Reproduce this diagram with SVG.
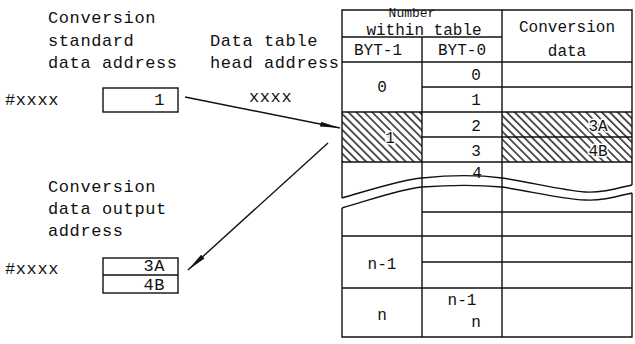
<svg xmlns="http://www.w3.org/2000/svg" width="635" height="344" viewBox="0 0 635 344">
<style>
text{font-family:"Liberation Mono","DejaVu Sans Mono",monospace;fill:#111}
.l{font-size:17px;letter-spacing:0.6px}
.t{font-size:16px}
.ln{stroke:#111;stroke-width:1.4;fill:none}
.box{stroke:#111;stroke-width:1.4;fill:#fff}
.k{paint-order:stroke;stroke:#fff;stroke-width:3px}
</style>
<defs>
<pattern id="hatch" patternUnits="userSpaceOnUse" width="5.6" height="5.6" patternTransform="rotate(45)">
<line x1="0" y1="1" x2="5.6" y2="1" stroke="#111" stroke-width="1.4"/>
</pattern>
<marker id="ah" viewBox="0 0 20 6" refX="20" refY="3" markerWidth="20" markerHeight="6" markerUnits="userSpaceOnUse" orient="auto">
<path d="M0,0.5 L20,3 L0,5.5 Z" fill="#111"/>
</marker>
</defs>

<g id="label-std">
<text class="l" x="48" y="23">Conversion</text>
<text class="l" x="48" y="46">standard</text>
<text class="l" x="48" y="68">data address</text>
</g>
<g id="label-head">
<text class="l" x="210" y="46">Data table</text>
<text class="l" x="210" y="68">head address</text>
<text class="l" x="249" y="102">xxxx</text>
</g>
<g id="node-std">
<text class="l" x="5" y="105">#xxxx</text>
<rect class="box" x="103" y="88" width="75" height="24"/>
<text class="l" x="165" y="105" text-anchor="end">1</text>
</g>
<g id="label-out">
<text class="l" x="48" y="192">Conversion</text>
<text class="l" x="48" y="214">data output</text>
<text class="l" x="48" y="236">address</text>
</g>
<g id="node-out">
<text class="l" x="5" y="274">#xxxx</text>
<rect class="box" x="103" y="258" width="75" height="35"/>
<line class="ln" x1="103" y1="275" x2="178" y2="275"/>
<text class="l" x="165" y="271" text-anchor="end">3A</text>
<text class="l" x="165" y="290" text-anchor="end">4B</text>
</g>

<g id="table">
<rect x="342" y="112" width="80" height="50" fill="url(#hatch)"/>
<rect x="502" y="112" width="130" height="50" fill="url(#hatch)"/>
<path class="ln" d="M342,198 V10 H632 V185"/>
<path class="ln" d="M342,198 C370,190 400,180 422,178 C450,175 480,175 502,178 C530,182 560,190 585,192 C600,193 615,189 632,185"/>
<path class="ln" d="M342,208 C370,200 400,189 422,187 C450,185 480,185 502,187 C530,191 560,199 585,200 C600,201 615,197 632,193"/>
<path class="ln" d="M342,208 V337 H632 V193"/>
<line class="ln" x1="422" y1="37" x2="422" y2="337"/>
<line class="ln" x1="502" y1="10" x2="502" y2="337"/>
<line class="ln" x1="342" y1="37" x2="502" y2="37"/>
<line class="ln" x1="342" y1="62" x2="632" y2="62"/>
<line class="ln" x1="422" y1="87" x2="632" y2="87"/>
<line class="ln" x1="342" y1="112" x2="632" y2="112"/>
<line class="ln" x1="422" y1="137" x2="632" y2="137"/>
<line class="ln" x1="342" y1="162" x2="632" y2="162"/>
<line class="ln" x1="422" y1="212" x2="632" y2="212"/>
<line class="ln" x1="342" y1="236" x2="632" y2="236"/>
<line class="ln" x1="422" y1="262" x2="632" y2="262"/>
<line class="ln" x1="342" y1="288" x2="632" y2="288"/>

<text x="412" y="17" text-anchor="middle" font-size="13">Number</text>
<text class="t" x="424" y="35" text-anchor="middle">within table</text>
<text class="t" x="567" y="32" text-anchor="middle">Conversion</text>
<text class="t" x="567" y="56" text-anchor="middle">data</text>
<text class="t" x="378" y="55" text-anchor="middle">BYT-1</text>
<text class="t" x="462" y="55" text-anchor="middle">BYT-0</text>
<text class="t" x="382" y="92" text-anchor="middle">0</text>
<text class="t" x="476" y="80" text-anchor="middle">0</text>
<text class="t" x="476" y="105" text-anchor="middle">1</text>
<text class="t k" x="390" y="143" text-anchor="middle">1</text>
<text class="t" x="476" y="131" text-anchor="middle">2</text>
<text class="t" x="476" y="156" text-anchor="middle">3</text>
<text class="t k" x="598" y="131" text-anchor="middle">3A</text>
<text class="t k" x="598" y="156" text-anchor="middle">4B</text>
<text class="t" x="477" y="178" text-anchor="middle">4</text>
<text class="t" x="382" y="269" text-anchor="middle">n-1</text>
<text class="t" x="382" y="320" text-anchor="middle">n</text>
<text class="t" x="462" y="305" text-anchor="middle">n-1</text>
<text class="t" x="476" y="327" text-anchor="middle">n</text>
</g>

<g id="connectors">
<line class="ln" x1="185" y1="97" x2="340" y2="128" stroke-width="1" marker-end="url(#ah)"/>
<line class="ln" x1="328" y1="143" x2="188" y2="270" stroke-width="1" marker-end="url(#ah)"/>
</g>
</svg>
